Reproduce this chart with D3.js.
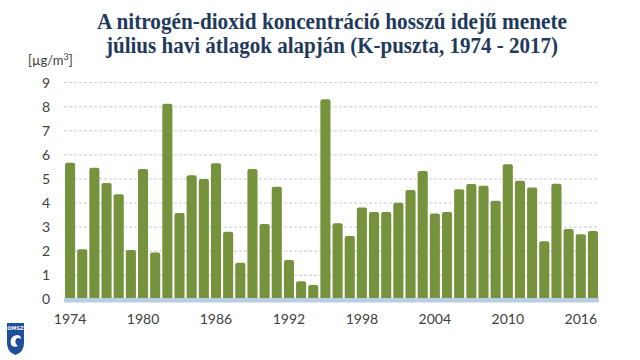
<!DOCTYPE html>
<html><head><meta charset="utf-8">
<script src="https://cdn.jsdelivr.net/npm/d3@7"></script>
<style>body{margin:0;background:#fff}svg{display:block}</style>
</head><body><svg id="c" width="640" height="360"></svg>
<script>
const years = d3.range(1974, 2018);
const values = [5.67,2.08,5.47,4.83,4.36,2.05,5.41,1.94,8.13,3.59,5.15,5.0,5.65,2.81,1.52,5.41,3.13,4.68,1.63,0.75,0.59,8.31,3.16,2.63,3.81,3.63,3.63,4.01,4.54,5.33,3.56,3.63,4.57,4.79,4.72,4.10,5.61,4.93,4.65,2.41,4.80,2.92,2.70,2.84];
const yTicks = [0,1,2,3,4,5,6,7,8,9];
const xTickYears = [1974,1980,1986,1992,1998,2004,2010,2016];
const titleLines = ["A nitrogén-dioxid koncentráció hosszú idejű menete","július havi átlagok alapján (K-puszta, 1974 - 2017)"];
const unitLabel = "[µg/m";

const svg = d3.select("#c");
const L = 64, R = 599, T = 82.7, B = 299.3;
const x = d3.scaleBand().domain(years).range([L, R]).paddingInner(0.17).paddingOuter(0.085);
const y = d3.scaleLinear().domain([0, 9]).range([B, T]);

// title
svg.selectAll("text.title").data(titleLines).join("text")
  .attr("class","title")
  .attr("x", 332).attr("y", (d,i)=>28.5 + i*24.3)
  .attr("text-anchor","middle")
  .attr("font-family","'Liberation Serif', serif").attr("font-weight","bold")
  .attr("font-size", 23).attr("fill","#1f3a5c")
  .attr("textLength", (d,i)=> i===0 ? 470 : 452).attr("lengthAdjust","spacingAndGlyphs")
  .text(d=>d);

// unit
const u = svg.append("text").attr("x", 28).attr("y", 65)
  .attr("font-family","Lato, 'Noto Sans', sans-serif").attr("font-size", 13).attr("fill","#404040");
u.append("tspan").text(unitLabel);
u.append("tspan").attr("font-size", 9).attr("dy", -5).text("3");
u.append("tspan").attr("dy", 5).text("]");

// gridlines
svg.append("g").selectAll("line").data(yTicks.filter(d=>d>0)).join("line")
  .attr("x1", L).attr("x2", R).attr("y1", d=>y(d)).attr("y2", d=>y(d))
  .attr("stroke","#c3cbd8").attr("stroke-width",1).attr("stroke-dasharray","3,2");

// y axis
const yAxis = svg.append("g").attr("transform",`translate(${L},0)`)
  .call(d3.axisLeft(y).tickValues(yTicks).tickSize(0).tickPadding(14).tickFormat(d3.format("d")));
yAxis.select(".domain").remove();
yAxis.selectAll("text").attr("font-family","Lato, 'Noto Sans', sans-serif").attr("font-size",14).attr("fill","#404040");

// bars
svg.append("g").selectAll("rect").data(values).join("rect")
  .attr("x", (d,i)=>x(years[i])).attr("width", x.bandwidth())
  .attr("y", d=>y(d)).attr("height", d=>B - y(d) + 2)
  .attr("rx", 2).attr("fill","#76923c");

// baseline
svg.append("rect").attr("x", L).attr("y", 298).attr("width", R-L).attr("height", 4.5).attr("fill","#b9cde4");

// x axis
const xAxis = svg.append("g").attr("transform",`translate(0,302)`)
  .call(d3.axisBottom(x).tickValues(xTickYears).tickSize(0).tickPadding(12));
xAxis.select(".domain").remove();
xAxis.selectAll("text").attr("font-family","Lato, 'Noto Sans', sans-serif").attr("font-size",14).attr("fill","#404040");

// logo
const lg = svg.append("g").attr("transform","translate(7,323)");
lg.append("path").attr("d","M0,0 H17 V20 Q17,29 8.5,32 Q0,29 0,20 Z").attr("fill","#1f4e9a");
lg.append("text").attr("x",8.5).attr("y",6.5).attr("text-anchor","middle").attr("font-family","'DejaVu Sans', sans-serif").attr("font-size",5).attr("font-weight","bold").attr("fill","#fff").text("OMSZ");
lg.append("path").attr("d","M4,22 Q2,13 10,12 Q14,12 14,16 Q11,14 9,16 Q7,20 11,23 Q7,25 4,22 Z").attr("fill","#fff");
</script>
</body></html>
